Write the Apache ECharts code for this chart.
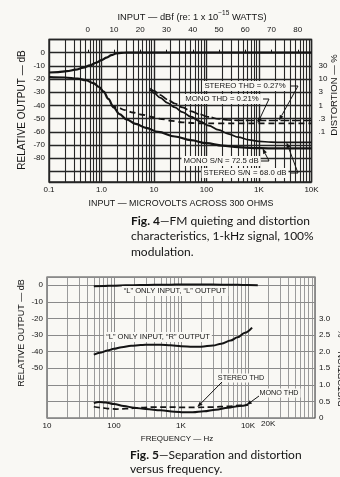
<!DOCTYPE html>
<html>
<head>
<meta charset="utf-8">
<script src="https://cdn.jsdelivr.net/npm/echarts@6/dist/echarts.min.js"></script>
<style>
  html, body { margin: 0; padding: 0; background: #f9f8f4; }
  #c { width: 340px; height: 477px; }
</style>
</head>
<body>
<div id="c"></div>
<script>
// ---------- Fig. 4: FM quieting & distortion vs. RF input (µV across 300 Ω) ----------
const MONO_SN_DB = -72.5;        // mono S/N
const STEREO_SN_DB = -68.0;      // stereo S/N
const STEREO_THD_PCT = 0.27;     // stereo THD at full quieting
const MONO_THD_PCT = 0.21;       // mono THD at full quieting
const pctToDb = p => 20 * Math.log10(p / 100);
const STEREO_THD_DB = pctToDb(STEREO_THD_PCT);
const MONO_THD_DB = pctToDb(MONO_THD_PCT);

const outputUv = [0.1, 0.15, 0.22, 0.32, 0.45, 0.6, 0.8, 1.0, 1.25, 1.55, 1.9, 2.4, 3, 5, 20, 100, 1000, 10000];
const outputDb = [-15, -14.7, -14.0, -12.9, -11.3, -9.6, -7.5, -5.6, -3.7, -1.9, -0.6, -0.1, 0, 0, 0, 0, 0, 0];

const monoNoiseUv = [0.1, 0.2, 0.35, 0.5, 0.7, 0.9, 1.1, 1.35, 1.7, 2.2, 3, 4.5, 7, 12, 25, 50, 100, 200, 400, 800, 1500, 10000];
const monoNoiseDb = [-18.5, -18.8, -19.6, -20.8, -23, -26, -29.5, -35, -41.5, -46.5, -50.5, -54, -57, -60, -63.5, -66.3, -68.6, -70.4, -71.6, -72.3, MONO_SN_DB, MONO_SN_DB];

const stereoNoiseUv = [8.5, 10, 13, 18, 25, 35, 50, 75, 110, 170, 260, 400, 650, 1000, 1700, 3000, 10000];
const stereoNoiseDb = [-28, -30.5, -34, -38, -41.5, -45, -48.5, -52, -55.3, -58.5, -61.5, -64, -66, -67.2, -67.8, STEREO_SN_DB, STEREO_SN_DB];

const stereoThdUv = [8.5, 10, 13, 18, 25, 35, 50, 75, 110, 170, 260, 400, 700, 10000];
const stereoThdDb = [-27, -29, -32, -35.5, -38.5, -41.5, -44.3, -46.8, -48.7, -50.2, -51, -51.3, STEREO_THD_DB, STEREO_THD_DB];

const monoThdUv = [1.5, 2, 2.8, 4, 6, 9, 14, 22, 35, 60, 100, 10000];
const monoThdDb = [-39.5, -41.5, -43.5, -45.3, -47, -48.7, -50.3, -51.7, -52.8, -53.4, MONO_THD_DB, MONO_THD_DB];

// tick labels
const fig4UvTicks = [0.1, 1, 10, 100, 1000, 10000];
const fig4UvLabels = ['0.1', '1.0', '10', '100', '1K', '10K'];
const fig4DbTicks = [0, -10, -20, -30, -40, -50, -60, -70, -80];
const fig4DbfTicks = [0, 10, 20, 30, 40, 50, 60, 70, 80];
const fig4DistDb = [-10, -20, -30, -40, -50, -60];
const fig4DistLabels = ['30', '10', '3', '1', '.3', '.1'];

// 0 dBf = 1 fW; across 300 Ω that is sqrt(P·R)
const DBF_REF_UV = Math.sqrt(1e-15 * 300) * 1e6;
const toDbf = uv => 20 * Math.log10(uv / DBF_REF_UV);

// ---------- Fig. 5: separation & distortion vs. frequency ----------
const lOutHz = [50, 70, 100, 150, 250, 400, 700, 1000, 2000, 4000, 7000, 10000, 14000];
const lOutDb = [-0.6, -0.4, -0.2, 0, 0.2, 0.3, 0.4, 0.5, 0.5, 0.4, 0.3, 0.2, 0.1];

const rOutHz = [50, 65, 80, 100, 130, 180, 250, 350, 500, 700, 1000, 1500, 2000, 3000, 4000, 5500, 7000, 9000, 11500];
const rOutDb = [-41.8, -40.5, -39.3, -38.3, -37.3, -36.5, -36, -35.8, -35.8, -36.2, -36.7, -37, -37, -36.3, -35.2, -33.3, -31.3, -28.6, -25.5];

const monoThdHz = [50, 60, 75, 100, 140, 200, 300, 500, 800, 1100, 1500, 2200, 3300, 5000, 7500, 10000];
const monoThdPct = [0.45, 0.48, 0.47, 0.42, 0.36, 0.31, 0.27, 0.23, 0.19, 0.17, 0.17, 0.2, 0.25, 0.31, 0.36, 0.4];

const stereoThdHz = [50, 65, 85, 110, 150, 250, 400, 700, 1000, 1700, 3000, 5000, 7500, 10000];
const stereoThdPct = [0.34, 0.31, 0.28, 0.27, 0.28, 0.31, 0.33, 0.33, 0.32, 0.32, 0.33, 0.35, 0.38, 0.41];

const fig5HzTicks = [10, 100, 1000, 10000];
const fig5HzLabels = ['10', '100', '1K', '10K'];
const fig5ExtraHz = 20000, fig5ExtraLabel = '20K';
const fig5DbTicks = [0, -10, -20, -30, -40, -50];
const fig5PctTicks = [0, 0.5, 1.0, 1.5, 2.0, 2.5, 3.0];
const fig5PctLabels = ['0', '0.5', '1.0', '1.5', '2.0', '2.5', '3.0'];

// ---------- styling ----------
const INK = '#141414';
const PAPER = '#f9f8f4';
const GRID4 = '#262626';
const GRID5 = '#8a8a8a';
const FONT = 'Liberation Sans, Arial, sans-serif';
const CAP_FONT = 'Lato, "Open Sans", sans-serif';

const zip = (xs, ys) => xs.map((x, i) => [x, ys[i]]);
const logLabel = (ticks, labels) => v => {
  const i = ticks.findIndex(t => Math.abs(Math.log10(t) - Math.log10(v)) < 1e-6);
  return i >= 0 ? labels[i] : '';
};
const near = (a, b) => Math.abs(a - b) < 1e-6;
const pickLabel = (ticks, labels) => v => {
  const i = ticks.findIndex(t => near(t, v));
  return i >= 0 ? labels[i] : '';
};

// minor log grid (2..9 within each decade)
function minorLines(fromExp, toExp) {
  const out = [];
  for (let e = fromExp; e < toExp; e++) {
    for (let k = 2; k <= 9; k++) out.push({ xAxis: k * Math.pow(10, e) });
  }
  return out;
}

const axisText = { color: INK, fontSize: 8, fontFamily: FONT };

function curve(name, xs, ys, xi, yi, dashed, width) {
  return {
    name, type: 'line', xAxisIndex: xi, yAxisIndex: yi,
    data: zip(xs, ys), showSymbol: false, symbol: 'none',
    smooth: 0.35, smoothMonotone: 'x', z: 5, silent: true,
    lineStyle: { color: INK, width: width || 1.8, type: dashed || 'solid', cap: 'butt' }
  };
}

function gridHelper(xi, yi, lines, color, width) {
  return {
    type: 'line', xAxisIndex: xi, yAxisIndex: yi, data: [], silent: true, z: 1,
    markLine: {
      silent: true, symbol: 'none', animation: false,
      label: { show: false },
      lineStyle: { color, width, type: 'solid' },
      emphasis: { disabled: true },
      data: lines
    }
  };
}

const chart = echarts.init(document.getElementById('c'), null, { renderer: 'canvas', width: 340, height: 477 });

chart.setOption({
  backgroundColor: PAPER,
  animation: false,
  grid: [
    { left: 49, top: 39.5, width: 262.5, height: 142.5, show: true, borderColor: GRID4, borderWidth: 1.4, backgroundColor: 'transparent' },
    { left: 47, top: 277, width: 268, height: 141, show: true, borderColor: '#444', borderWidth: 1.1, backgroundColor: 'transparent' }
  ],
  xAxis: [
    { gridIndex: 0, type: 'log', logBase: 10, min: 0.1, max: 10000, position: 'bottom',
      axisLine: { show: false }, axisTick: { show: false },
      splitLine: { show: true, lineStyle: { color: GRID4, width: 1.4 } },
      axisLabel: Object.assign({ margin: 4, formatter: logLabel(fig4UvTicks, fig4UvLabels), showMinLabel: true, showMaxLabel: true }, axisText) },
    { gridIndex: 0, type: 'value', min: toDbf(0.1), max: toDbf(10000), position: 'top',
      minInterval: 10, maxInterval: 10,
      axisLine: { show: false },
      axisTick: { show: true, length: 3, lineStyle: { color: INK, width: 1 }, customValues: fig4DbfTicks },
      splitLine: { show: false },
      axisLabel: Object.assign({ margin: 6, customValues: fig4DbfTicks, formatter: v => fig4DbfTicks.some(t => near(t, v)) ? String(Math.round(v)) : '' }, axisText) },
    { gridIndex: 1, type: 'log', logBase: 10, min: 10, max: 100000, position: 'bottom',
      axisLine: { show: false }, axisTick: { show: false },
      splitLine: { show: true, lineStyle: { color: GRID5, width: 1 } },
      axisLabel: Object.assign({ margin: 4, formatter: logLabel(fig5HzTicks, fig5HzLabels), showMinLabel: true, showMaxLabel: true }, axisText) }
  ],
  yAxis: [
    { gridIndex: 0, type: 'value', min: -98, max: 10, minInterval: 10, maxInterval: 10, position: 'left',
      axisLine: { show: false }, axisTick: { show: false },
      splitLine: { show: true, lineStyle: { color: GRID4, width: 1.3 } },
      axisLabel: Object.assign({ margin: 4, formatter: pickLabel(fig4DbTicks, fig4DbTicks.map(String)) }, axisText) },
    { gridIndex: 0, type: 'value', min: -98, max: 10, minInterval: 10, maxInterval: 10, position: 'right',
      axisLine: { show: false }, axisTick: { show: false }, splitLine: { show: false },
      axisLabel: Object.assign({ margin: 7, formatter: pickLabel(fig4DistDb, fig4DistLabels) }, axisText) },
    { gridIndex: 1, type: 'value', min: -80, max: 5, minInterval: 10, maxInterval: 10, position: 'left',
      axisLine: { show: false }, axisTick: { show: false },
      splitLine: { show: true, lineStyle: { color: GRID5, width: 1 } },
      axisLabel: Object.assign({ margin: 4, formatter: pickLabel(fig5DbTicks, fig5DbTicks.map(String)) }, axisText) },
    { gridIndex: 1, type: 'value', min: 0, max: 4.25, minInterval: 0.5, maxInterval: 0.5, position: 'right',
      axisLine: { show: false }, axisTick: { show: false }, splitLine: { show: false },
      axisLabel: Object.assign({ margin: 4, formatter: pickLabel(fig5PctTicks, fig5PctLabels) }, axisText) }
  ],
  series: [
    gridHelper(0, 0, minorLines(-1, 4), GRID4, 1.1),
    gridHelper(2, 2, minorLines(1, 5), GRID5, 0.85),
    curve('Output', outputUv, outputDb, 0, 0, 'solid', 2.2),
    curve('Mono noise', monoNoiseUv, monoNoiseDb, 0, 0, 'solid', 2.2),
    curve('Stereo noise', stereoNoiseUv, stereoNoiseDb, 0, 0, 'solid', 1.7),
    curve('Stereo THD', stereoThdUv, stereoThdDb, 0, 0, [9, 2.5], 1.7),
    curve('Mono THD', monoThdUv, monoThdDb, 0, 0, [6, 4], 1.9),
    curve('"L" output', lOutHz, lOutDb, 2, 2, 'solid', 2),
    curve('"R" output', rOutHz, rOutDb, 2, 2, 'solid', 2),
    curve('Mono THD', monoThdHz, monoThdPct, 2, 3, 'solid', 2),
    curve('Stereo THD', stereoThdHz, stereoThdPct, 2, 3, [6, 3.5], 1.7)
  ]
});

// ---------- titles, captions, call-outs ----------
const p4 = (x, y) => chart.convertToPixel({ xAxisIndex: 0, yAxisIndex: 0 }, [x, y]);
const p5 = (x, y) => chart.convertToPixel({ xAxisIndex: 2, yAxisIndex: 3 }, [x, y]);

function text(x, y, str, size, opts) {
  opts = opts || {};
  return {
    type: 'text', x, y, rotation: opts.rotation || 0, z: 100, silent: true,
    style: Object.assign({
      text: str, fill: INK, fontSize: size, fontFamily: opts.family || FONT,
      fontWeight: opts.weight || 'normal',
      align: opts.align || 'center', verticalAlign: 'middle'
    }, opts.style || {})
  };
}
function callout(x, y, str, size) {
  return text(x, y, str, size || 7.8, { style: { backgroundColor: PAPER, padding: [1, 2, 1, 2] } });
}
function arrow(path, tip) {
  const [x1, y1] = path[path.length - 1];
  const [x2, y2] = tip;
  const a = Math.atan2(y2 - y1, x2 - x1);
  const L = 5.5, W = 2;
  const bx = x2 - L * Math.cos(a), by = y2 - L * Math.sin(a);
  return [
    { type: 'polyline', z: 101, silent: true, shape: { points: path.concat([[bx, by]]) },
      style: { stroke: INK, lineWidth: 1, fill: null } },
    { type: 'polygon', z: 101, silent: true,
      shape: { points: [[x2, y2], [bx + W * Math.sin(a), by - W * Math.cos(a)], [bx - W * Math.sin(a), by + W * Math.cos(a)]] },
      style: { fill: INK } }
  ];
}

const x20k = chart.convertToPixel({ xAxisIndex: 2 }, fig5ExtraHz);
const capRich = {
  b: { fontSize: 12, fontWeight: 'bold', fontFamily: CAP_FONT, fill: INK },
  r: { fontSize: 12, fontFamily: CAP_FONT, fill: INK }
};

const graphics = [
  // Fig. 4 axis titles
  { type: 'text', x: 192, y: 16, z: 100, silent: true,
    style: { text: '{n|INPUT — dBf (re: 1 x 10}{s|−15}{n| WATTS)}', align: 'center', verticalAlign: 'middle', fill: INK,
      rich: { n: { fontSize: 9.3, fontFamily: FONT, fill: INK, verticalAlign: 'bottom', lineHeight: 12 },
              s: { fontSize: 6.5, fontFamily: FONT, fill: INK, verticalAlign: 'top', lineHeight: 12 } } } },
  text(22, 110, 'RELATIVE OUTPUT — dB', 10, { rotation: Math.PI / 2 }),
  text(334, 95, 'DISTORTION — %', 9.5, { rotation: Math.PI / 2 }),
  text(181, 204, 'INPUT — MICROVOLTS ACROSS 300 OHMS', 8.9),
  // Fig. 4 caption
  { type: 'text', x: 131, y: 221, z: 100, silent: true,
    style: { text: '{b|Fig. 4}{r|—FM quieting and distortion}', verticalAlign: 'middle', align: 'left', rich: capRich } },
  text(131, 236.5, 'characteristics, 1-kHz signal, 100%', 12, { align: 'left', family: CAP_FONT }),
  text(131, 252, 'modulation.', 12, { align: 'left', family: CAP_FONT }),
  // Fig. 4 call-outs
  callout(245, 86, `STEREO THD = ${STEREO_THD_PCT.toFixed(2)}%`),
  callout(222, 99, `MONO THD = ${MONO_THD_PCT.toFixed(2)}%`),
  callout(221, 161, `MONO S/N = ${Math.abs(MONO_SN_DB).toFixed(1)} dB`),
  callout(245, 173, `STEREO S/N = ${Math.abs(STEREO_SN_DB).toFixed(1)} dB`),
  ...arrow([[291, 86], [298, 86]], p4(2400, STEREO_THD_DB)),
  ...arrow([[263, 99], [269, 99]], p4(940, MONO_THD_DB)),
  ...arrow([[261, 161], [269, 161]], p4(1170, MONO_SN_DB)),
  ...arrow([[291, 173], [298, 173]], p4(3350, STEREO_SN_DB)),

  // Fig. 5 axis titles
  text(22, 333, 'RELATIVE OUTPUT — dB', 9, { rotation: Math.PI / 2 }),
  text(342, 368, 'DISTORTION — %', 9, { rotation: Math.PI / 2 }),
  text(177, 439, 'FREQUENCY — Hz', 8),
  text(x20k, 424, fig5ExtraLabel, 8),
  // Fig. 5 caption
  { type: 'text', x: 130, y: 455, z: 100, silent: true,
    style: { text: '{b|Fig. 5}{r|—Separation and distortion}', verticalAlign: 'middle', align: 'left', rich: capRich } },
  text(130, 469, 'versus frequency.', 12, { align: 'left', family: CAP_FONT }),
  // Fig. 5 call-outs
  callout(175, 291, '“L” ONLY INPUT, “L” OUTPUT', 7.6),
  callout(158, 337, '“L” ONLY INPUT, “R” OUTPUT', 7.6),
  callout(241, 378, 'STEREO THD', 7.2),
  callout(279, 393, 'MONO THD', 7.2),
  ...arrow([[222, 382]], p5(1750, 0.33)),
  ...arrow([[259, 396]], p5(9500, 0.39))
];

chart.setOption({ graphic: graphics });
</script>
</body>
</html>
